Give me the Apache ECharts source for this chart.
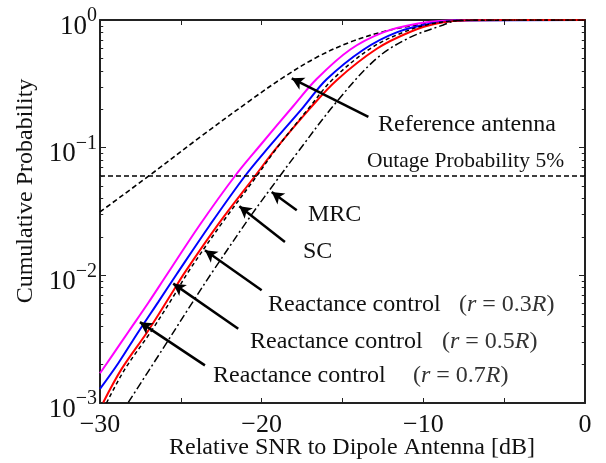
<!DOCTYPE html>
<html>
<head>
<meta charset="utf-8">
<script src="https://cdn.jsdelivr.net/npm/echarts@6/dist/echarts.min.js"></script>
<style>
  html, body { margin: 0; background: #fff; }
  #chart { width: 606px; height: 463px; }
</style>
</head>
<body>
<div id="chart"></div>
<script>
// relative SNR [dB] / cumulative probability
const rc07X = [-30, -29.28, -28.25, -27.01, -25.87, -23.81, -21.65, -20.10, -18.04, -16.60, -14.54, -12.48, -10.41, -8.35, -6.5, 0];
const rc07Y = [0.00171, 0.00232, 0.0036, 0.0061, 0.0101, 0.0250, 0.060, 0.104, 0.212, 0.345, 0.585, 0.800, 0.935, 0.990, 1, 1];

const rc05X = [-30, -28.87, -27.63, -26.39, -25.26, -23.20, -21.03, -19.59, -17.42, -15.98, -13.71, -11.65, -9.59, -7.55, 0];
const rc05Y = [0.00129, 0.00205, 0.0036, 0.0062, 0.0102, 0.0248, 0.060, 0.100, 0.208, 0.343, 0.585, 0.800, 0.935, 0.992, 1];

const rc03X = [-29.80, -28.66, -27.01, -25.57, -24.74, -22.68, -20.41, -19.18, -17.01, -15.36, -12.88, -10.83, -9.17, -7.1, 0];
const rc03Y = [0.00101, 0.00185, 0.0037, 0.0072, 0.0106, 0.0252, 0.060, 0.096, 0.203, 0.338, 0.595, 0.805, 0.938, 0.994, 1];

const scX = [-29.6, -28.45, -26.8, -25.35, -24.55, -22.5, -20.3, -19.15, -17.1, -15.6, -13.3, -11.2, -9.4, -7.3, 0];
const scY = [0.001, 0.00185, 0.0037, 0.0072, 0.0106, 0.0252, 0.060, 0.096, 0.203, 0.343, 0.595, 0.805, 0.938, 0.994, 1];

const mrcX = [-28.25, -26.18, -24.12, -22.99, -20.72, -18.87, -17.83, -15.36, -12.88, -10.83, -8.77, -7.94, -6.5, 0];
const mrcY = [0.00101, 0.00258, 0.0066, 0.0109, 0.0287, 0.060, 0.090, 0.229, 0.501, 0.73, 0.914, 0.99, 1, 1];

const refX = [-30, -26.91, -23.81, -20.72, -18.66, -16.60, -14.54, -12.48, -10.41, -8.35, -6.5, 0];
const refY = [0.0314, 0.061, 0.121, 0.234, 0.355, 0.51, 0.67, 0.81, 0.914, 0.985, 1, 1];

const outageLevel = 0.06;

const xTicks = [-30, -20, -10, 0];

const font = 'Liberation Serif';
const zip = (xs, ys) => xs.map((x, i) => [x, ys[i]]);
const minus = s => String(s).replace('-', '\u2212');

// arrow annotations: [tail, head] in data units
const arrows = [
  [[-13.40, 0.1745], [-18.14, 0.349]],
  [[-17.83, 0.0324], [-19.38, 0.045]],
  [[-18.56, 0.01825], [-21.38, 0.0348]],
  [[-20.0, 0.00763], [-23.51, 0.0157]],
  [[-21.45, 0.00382], [-25.47, 0.00861]],
  [[-23.51, 0.00197], [-27.53, 0.0043]]
];

// minor ticks on the log axis (2..9 in each decade), both sides
const minorTicks = [];
[0.001, 0.01, 0.1].forEach(d => {
  for (let m = 2; m <= 9; m++) {
    minorTicks.push([{ coord: [-30, m * d] }, { coord: [-29.8, m * d] }]);
    minorTicks.push([{ coord: [0, m * d] }, { coord: [-0.2, m * d] }]);
  }
});

const frame = { onZero: false, lineStyle: { color: '#222', width: 2 } };
const mathRich = {
  u: { fontFamily: font, fontSize: 24, fill: '#333' },
  i: { fontFamily: font, fontSize: 24, fontStyle: 'italic', fill: '#333' }
};
const mathText = r => '{u|(}{i|r}{u| = ' + r + '}{i|R}{u|)}';

const chart = echarts.init(document.getElementById('chart'), null, { renderer: 'canvas' });

const option = {
  animation: false,
  grid: { left: 100, right: 21, top: 20, bottom: 60 },
  xAxis: [{
    type: 'value', min: -30, max: 0, interval: 5,
    axisLine: frame,
    axisTick: { inside: true, length: 5, lineStyle: { color: '#222', width: 1 } },
    splitLine: { show: false },
    axisLabel: {
      margin: 9, fontFamily: font, fontSize: 26, color: '#111',
      formatter: v => xTicks.includes(v) ? minus(v) : ''
    }
  }, {
    type: 'value', position: 'top', min: -30, max: 0, interval: 5,
    axisLine: frame,
    axisTick: { inside: true, length: 5, lineStyle: { color: '#222', width: 1 } },
    splitLine: { show: false },
    axisLabel: { show: false }
  }],
  yAxis: [{
    type: 'log', logBase: 10, min: 0.001, max: 1,
    axisLine: frame,
    axisTick: { inside: true, length: 6, lineStyle: { color: '#222', width: 1 } },
    splitLine: { show: false },
    axisLabel: {
      margin: 3, color: '#111',
      formatter: v => '{b|10}{s|' + minus(Math.round(Math.log10(v))) + '}',
      rich: {
        b: { fontFamily: font, fontSize: 27, padding: [13, 0, 0, 0] },
        s: { fontFamily: font, fontSize: 20, padding: [0, 0, 8, 0] }
      }
    }
  }, {
    type: 'log', logBase: 10, min: 0.001, max: 1, position: 'right',
    axisLine: frame,
    axisTick: { inside: true, length: 6, lineStyle: { color: '#222', width: 1 } },
    splitLine: { show: false },
    axisLabel: { show: false }
  }],
  series: [
    {
      type: 'line', data: zip(refX, refY), showSymbol: false, smooth: 0.35,
      lineStyle: { color: '#000', width: 1.6, type: [5, 3] }
    },
    {
      type: 'line', data: zip(rc07X, rc07Y), showSymbol: false, smooth: 0.35,
      lineStyle: { color: '#ff00ff', width: 2 }
    },
    {
      type: 'line', data: zip(rc05X, rc05Y), showSymbol: false, smooth: 0.35,
      lineStyle: { color: '#0000ff', width: 2 }
    },
    {
      type: 'line', data: zip(rc03X, rc03Y), showSymbol: false, smooth: 0.35,
      lineStyle: { color: '#ff0000', width: 2 }
    },
    {
      type: 'line', data: zip(scX, scY), showSymbol: false, smooth: 0.35,
      lineStyle: { color: '#000', width: 1.5, type: [4, 3] }
    },
    {
      type: 'line', data: zip(mrcX, mrcY), showSymbol: false, smooth: 0.35,
      lineStyle: { color: '#000', width: 1.5, type: [8, 3, 2, 3] }
    },
    {
      type: 'line', data: [[-30, outageLevel], [0, outageLevel]], showSymbol: false,
      lineStyle: { color: '#000', width: 1.5, type: [5, 3] },
      markLine: {
        silent: true, symbol: ['none', 'none'], label: { show: false },
        lineStyle: { color: '#222', width: 1, type: 'solid' },
        data: minorTicks
      }
    },
    {
      type: 'line', data: [], showSymbol: false,
      markLine: {
        silent: true, symbol: ['none', 'arrow'], symbolSize: [10, 12], label: { show: false },
        lineStyle: { color: '#000', width: 2.5, type: 'solid' },
        data: arrows.map(a => [{ coord: a[0] }, { coord: a[1] }])
      }
    }
  ],
  graphic: [
    { type: 'text', x: 26, y: 191, rotation: Math.PI / 2,
      style: { text: 'Cumulative Probability', font: '24px "Liberation Serif"', fill: '#111', align: 'center', verticalAlign: 'middle' } },
    { type: 'text', x: 352, y: 448,
      style: { text: 'Relative SNR to Dipole Antenna [dB]', font: '24px "Liberation Serif"', fill: '#111', align: 'center', verticalAlign: 'middle' } },
    { type: 'text', x: 378, y: 125,
      style: { text: 'Reference antenna', font: '24px "Liberation Serif"', fill: '#111', verticalAlign: 'middle' } },
    { type: 'text', x: 367, y: 161,
      style: { text: 'Outage Probability 5%', font: '21.5px "Liberation Serif"', fill: '#111', verticalAlign: 'middle' } },
    { type: 'text', x: 308, y: 215,
      style: { text: 'MRC', font: '24px "Liberation Serif"', fill: '#111', verticalAlign: 'middle' } },
    { type: 'text', x: 303, y: 252,
      style: { text: 'SC', font: '24px "Liberation Serif"', fill: '#111', verticalAlign: 'middle' } },
    { type: 'text', x: 268, y: 305,
      style: { text: 'Reactance control', font: '24px "Liberation Serif"', fill: '#111', verticalAlign: 'middle' } },
    { type: 'text', x: 459, y: 305,
      style: { text: mathText('0.3'), rich: mathRich, verticalAlign: 'middle' } },
    { type: 'text', x: 250, y: 342,
      style: { text: 'Reactance control', font: '24px "Liberation Serif"', fill: '#111', verticalAlign: 'middle' } },
    { type: 'text', x: 442, y: 342,
      style: { text: mathText('0.5'), rich: mathRich, verticalAlign: 'middle' } },
    { type: 'text', x: 213, y: 376,
      style: { text: 'Reactance control', font: '24px "Liberation Serif"', fill: '#111', verticalAlign: 'middle' } },
    { type: 'text', x: 413, y: 376,
      style: { text: mathText('0.7'), rich: mathRich, verticalAlign: 'middle' } }
  ]
};

chart.setOption(option);
window.addEventListener('resize', chart.resize);
</script>
</body>
</html>
